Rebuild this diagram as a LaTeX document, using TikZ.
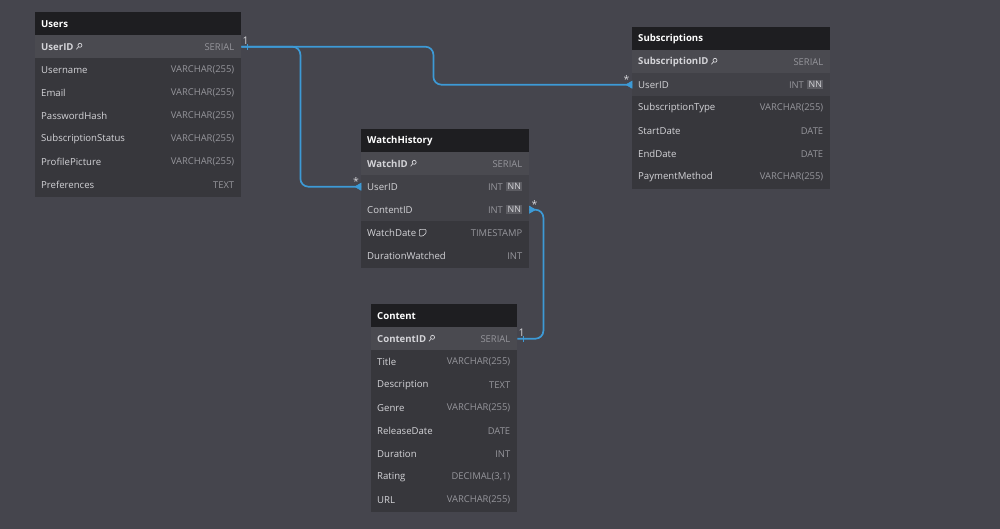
\documentclass[tikz,border=0pt]{standalone}
\usepackage{fontspec}
\setmainfont{Open Sans}
\usetikzlibrary{calc}
\definecolor{bg}{HTML}{45454D}
\definecolor{body}{HTML}{37373C}
\definecolor{hdr}{HTML}{1E1E21}
\definecolor{pkrow}{HTML}{4A4A50}
\definecolor{fkrow}{HTML}{414147}
\definecolor{nametxt}{HTML}{D4D4D8}
\definecolor{typetxt}{HTML}{96969C}
\definecolor{nnbox}{HTML}{5C5C62}
\definecolor{link}{HTML}{3D9AD6}
\tikzset{
  cell/.style={minimum height=23pt, inner sep=0pt, anchor=north west, draw=none},
  fieldtxt/.style={inner sep=0pt, text=nametxt, font=\fontsize{9.6}{11}\selectfont},
  pktxt/.style={inner sep=0pt, text=nametxt, font=\fontsize{9.6}{11}\selectfont\bfseries},
  typetx/.style={inner sep=0pt, text=typetxt, font=\fontsize{9.4}{11}\selectfont},
  hdrtxt/.style={inner sep=0pt, text=white, font=\fontsize{9.6}{11}\selectfont\bfseries},
  nnbadge/.style={inner sep=1.3pt, fill=nnbox, text=nametxt, font=\fontsize{8.8}{10}\selectfont},
  icon/.style={draw=nametxt, line width=0.7pt},
  conn/.style={draw=link, line width=1.7pt, rounded corners=8pt},
  foot/.style={fill=link, draw=link, line width=0.6pt},
  card/.style={inner sep=0pt, text=nametxt, font=\fontsize{10.5}{11}\selectfont},
}
% #1 name, #2 x, #3 ytop, #4 width, #5 fill, #6 field, #7 type
\newcommand{\erow}[7]{%
  \node[cell, fill=#5, minimum width=#4pt] (#1) at (#2,#3) {};
  \node[fieldtxt, anchor=west] (#1-n) at ([xshift=6pt]#1.west) {#6};
  \node[typetx, anchor=east] (#1-t) at ([xshift=-7pt]#1.east) {#7};
}
\newcommand{\pkrowcmd}[6]{%
  \node[cell, fill=pkrow, minimum width=#4pt] (#1) at (#2,#3) {};
  \node[pktxt, anchor=west] (#1-n) at ([xshift=6pt]#1.west) {#5};
  \node[typetx, anchor=east] (#1-t) at ([xshift=-7pt]#1.east) {#6};
  \draw[icon] ([xshift=6.2pt,yshift=1.4pt]#1-n.east) circle (2pt);
  \draw[icon] ([xshift=4.8pt,yshift=0pt]#1-n.east) -- ([xshift=2.6pt,yshift=-2.6pt]#1-n.east);
}
\newcommand{\fkrowcmd}[5]{%
  \node[cell, fill=fkrow, minimum width=#4pt] (#1) at (#2,#3) {};
  \node[fieldtxt, anchor=west] (#1-n) at ([xshift=6pt]#1.west) {#5};
  \node[nnbadge, anchor=east] (#1-b) at ([xshift=-7pt]#1.east) {NN};
  \node[typetx, anchor=east] (#1-t) at ([xshift=-3pt]#1-b.west) {INT};
}
\newcommand{\thead}[5]{% name, x, y, w, title
  \node[cell, fill=hdr, minimum width=#4pt] (#1) at (#2,#3) {};
  \node[hdrtxt, anchor=west] (#1-n) at ([xshift=6pt]#1.west) {#5};
}
\begin{document}
\begin{tikzpicture}[x=1pt,y=-1pt]
\useasboundingbox (0,0) rectangle (1000,529);
\fill[bg] (0,0) rectangle (1000,529);

% ---------- Users ----------
\fill[body] (35,12) rectangle (241,197);
\thead{uh}{35}{12}{206}{Users}
\pkrowcmd{upk}{35}{35}{206}{UserID}{SERIAL}
\erow{u2}{35}{58}{206}{body}{Username}{VARCHAR(255)}
\erow{u3}{35}{81}{206}{body}{Email}{VARCHAR(255)}
\erow{u4}{35}{104}{206}{body}{PasswordHash}{VARCHAR(255)}
\erow{u5}{35}{127}{206}{body}{SubscriptionStatus}{VARCHAR(255)}
\erow{u6}{35}{150}{206}{body}{ProfilePicture}{VARCHAR(255)}
\erow{u7}{35}{173}{206}{body}{Preferences}{TEXT}

% ---------- Subscriptions ----------
\fill[body] (632,27) rectangle (830,189);
\thead{sh}{632}{27}{198}{Subscriptions}
\pkrowcmd{spk}{632}{50}{198}{SubscriptionID}{SERIAL}
\fkrowcmd{suid}{632}{73}{198}{UserID}
\erow{s3}{632}{96}{198}{body}{SubscriptionType}{VARCHAR(255)}
\erow{s4}{632}{119}{198}{body}{StartDate}{DATE}
\erow{s5}{632}{142}{198}{body}{EndDate}{DATE}
\erow{s6}{632}{165}{198}{body}{PaymentMethod}{VARCHAR(255)}

% ---------- WatchHistory ----------
\fill[body] (361,129) rectangle (529,268);
\thead{wh}{361}{129}{168}{WatchHistory}
\pkrowcmd{wpk}{361}{152}{168}{WatchID}{SERIAL}
\fkrowcmd{wuid}{361}{175}{168}{UserID}
\fkrowcmd{wcid}{361}{198}{168}{ContentID}
\erow{w4}{361}{221}{168}{body}{WatchDate}{TIMESTAMP}
\erow{w5}{361}{244}{168}{body}{DurationWatched}{INT}
\draw[icon, line width=0.6pt, rounded corners=0.8pt] ([xshift=3pt,yshift=-3.3pt]w4-n.east) -- ([xshift=3pt,yshift=3.3pt]w4-n.east) -- ([xshift=9.6pt,yshift=3.3pt]w4-n.east) -- ([xshift=9.6pt,yshift=-0.5pt]w4-n.east) -- ([xshift=6.4pt,yshift=-3.3pt]w4-n.east) -- cycle;

% ---------- Content ----------
\fill[body] (371,304) rectangle (517,512);
\thead{ch}{371}{304}{146}{Content}
\pkrowcmd{cpk}{371}{327}{146}{ContentID}{SERIAL}
\erow{c2}{371}{350}{146}{body}{Title}{VARCHAR(255)}
\erow{c3}{371}{373}{146}{body}{Description}{TEXT}
\erow{c4}{371}{396}{146}{body}{Genre}{VARCHAR(255)}
\erow{c5}{371}{419}{146}{body}{ReleaseDate}{DATE}
\erow{c6}{371}{442}{146}{body}{Duration}{INT}
\erow{c7}{371}{465}{146}{body}{Rating}{DECIMAL(3,1)}
\erow{c8}{371}{488}{146}{body}{URL}{VARCHAR(255)}

% ---------- Connectors ----------
\coordinate (j1) at ([xshift=59pt]upk.east);
\coordinate (j2) at ([xshift=192pt]upk.east);
\coordinate (j3) at ([xshift=14pt]wcid.east);
\draw[conn] (upk.east) -- (j1) |- (wuid.west);
\draw[conn] (upk.east) -- (j2) |- (suid.west);
\draw[conn] (cpk.east) -| (j3) -- (wcid.east);

% one-side ticks
\draw[draw=link, line width=1pt] ([xshift=6pt,yshift=3pt]upk.east) -- ([xshift=6pt,yshift=-3pt]upk.east);
\draw[draw=link, line width=1pt] ([xshift=6pt,yshift=3pt]cpk.east) -- ([xshift=6pt,yshift=-3pt]cpk.east);

% many-side feet
\fill[foot] ([xshift=-6pt]wuid.west) -- ([yshift=3.5pt]wuid.west) -- ([yshift=-3.5pt]wuid.west) -- cycle;
\fill[foot] ([xshift=-6pt]suid.west) -- ([yshift=3.5pt]suid.west) -- ([yshift=-3.5pt]suid.west) -- cycle;
\fill[foot] ([xshift=6pt]wcid.east) -- ([yshift=3.5pt]wcid.east) -- ([yshift=-3.5pt]wcid.east) -- cycle;

% cardinality labels
\node[card] (l1) at (245.5,41) {1};
\node[card] (l2) at (521.5,333) {1};
\node[card] (l3) at (626.5,80) {*};
\node[card] (l4) at (356,182) {*};
\node[card] (l5) at (534.5,205) {*};
\end{tikzpicture}
\end{document}
